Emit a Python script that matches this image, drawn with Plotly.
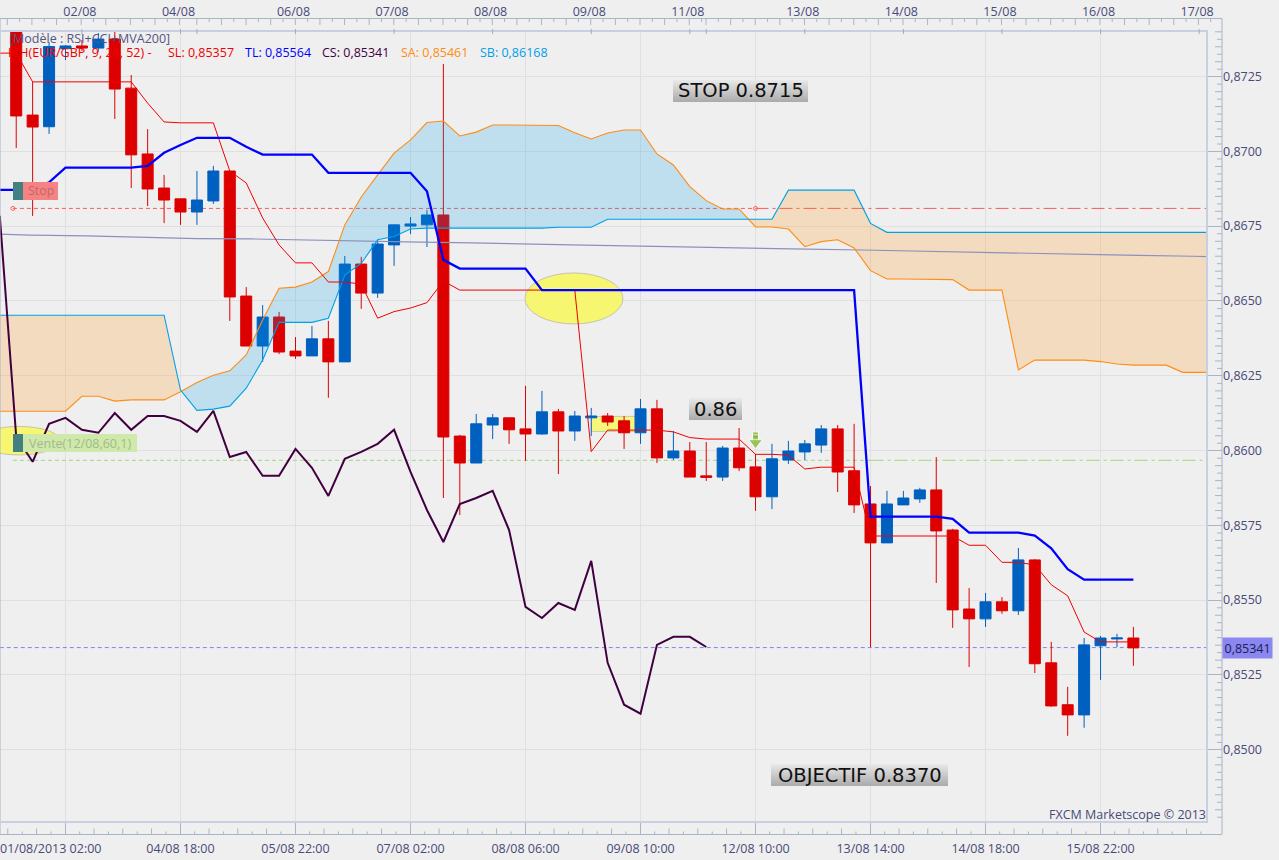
import plotly.graph_objects as go

W, H = 1279, 860

# --- data -----------------------------------------------------------------
CANDLE_FIRST = 1
OPEN = [0.87422,0.87121,0.87082,0.87343,0.87352,0.87345,0.87375,0.87211,0.86991,0.86877,0.86841,0.86797,0.86834,0.86934,0.86516,
        0.86349,0.86446,0.86332,0.86316,0.86373,0.86296,0.86623,0.86526,0.86687,0.86750,0.86754,0.86787,0.86048,0.85958,0.86085,
        0.86109,0.86072,0.86055,0.86129,0.86065,0.86109,0.86115,0.86099,0.86059,0.86139,0.85975,0.85998,0.85915,0.85911,0.86008,
        0.85945,0.85845,0.85968,0.85995,0.86018,0.86072,0.85932,0.85821,0.85691,0.85818,0.85838,0.85868,0.85734,0.85470,0.85437,
        0.85494,0.85464,0.85634,0.85290,0.85150,0.85116,0.85347,0.85370,0.85373]
HIGH = [0.87439,0.87232,0.87365,0.87355,0.87372,0.87395,0.87399,0.87255,0.87074,0.86921,0.86841,0.86934,0.86951,0.86934,0.86546,
        0.86486,0.86463,0.86379,0.86416,0.86433,0.86650,0.86647,0.86704,0.86754,0.86780,0.86804,0.87292,0.86052,0.86122,0.86122,
        0.86109,0.86216,0.86199,0.86139,0.86132,0.86142,0.86125,0.86115,0.86172,0.86169,0.86065,0.86028,0.86028,0.86015,0.86075,
        0.85988,0.86022,0.86032,0.86035,0.86085,0.86085,0.86089,0.85881,0.85865,0.85865,0.85875,0.85978,0.85738,0.85540,0.85524,
        0.85510,0.85674,0.85637,0.85360,0.85210,0.85373,0.85380,0.85387,0.85410]
LOW = [0.87011,0.86784,0.87058,0.87305,0.87335,0.87332,0.87108,0.86877,0.86817,0.86760,0.86754,0.86754,0.86824,0.86433,0.86349,
       0.86296,0.86322,0.86306,0.86316,0.86176,0.86296,0.86473,0.86510,0.86617,0.86723,0.86680,0.85841,0.85784,0.85958,0.86038,
       0.86022,0.85965,0.86052,0.85921,0.86032,0.86048,0.86082,0.86005,0.86022,0.85958,0.85968,0.85911,0.85898,0.85898,0.85931,
       0.85798,0.85804,0.85955,0.85968,0.85992,0.85861,0.85791,0.85343,0.85691,0.85818,0.85825,0.85557,0.85407,0.85276,0.85410,
       0.85454,0.85450,0.85256,0.85143,0.85046,0.85073,0.85233,0.85343,0.85280]
CLOSE = [0.87118,0.87081,0.87350,0.87352,0.87345,0.87375,0.87208,0.86988,0.86874,0.86837,0.86797,0.86837,0.86934,0.86513,0.86349,
         0.86446,0.86329,0.86316,0.86373,0.86296,0.86623,0.86526,0.86690,0.86754,0.86757,0.86787,0.86045,0.85958,0.86089,0.86109,
         0.86069,0.86055,0.86129,0.86065,0.86115,0.86115,0.86095,0.86059,0.86139,0.85975,0.85998,0.85911,0.85910,0.86008,0.85942,
         0.85845,0.85972,0.85998,0.86022,0.86072,0.85928,0.85818,0.85691,0.85821,0.85841,0.85868,0.85731,0.85467,0.85437,0.85494,
         0.85464,0.85634,0.85287,0.85146,0.85116,0.85350,0.85373,0.85373,0.85340]

SENKOU_A = [0.86131,0.86131,0.86131,0.86131,0.86131,0.86181,0.86181,0.86165,0.86169,0.86169,0.86169,0.86196,0.86227,0.86251,0.86266,
            0.86319,0.86436,0.86542,0.86546,0.86563,0.86598,0.86754,0.86847,0.86921,0.86994,0.87038,0.87096,0.87101,0.87051,0.87064,
            0.87088,0.87088,0.87088,0.87088,0.87086,0.87062,0.87041,0.87061,0.87071,0.87071,0.86991,0.86954,0.86882,0.86835,0.86807,
            0.86807,0.86747,0.86747,0.86740,0.86681,0.86698,0.86704,0.86677,0.86601,0.86573,0.86573,0.86573,0.86573,0.86571,0.86536,
            0.86536,0.86536,0.86269,0.86302,0.86302,0.86302,0.86302,0.86297,0.86289,0.86285,0.86285,0.86285,0.86261,0.86261,0.86261]
SENKOU_B = [0.86452,0.86452,0.86452,0.86452,0.86452,0.86452,0.86452,0.86452,0.86452,0.86452,0.86452,0.86202,0.86134,0.86138,0.86148,
            0.86208,0.86302,0.86428,0.86428,0.86428,0.86442,0.86586,0.86625,0.86704,0.86715,0.86740,0.86743,0.86743,0.86743,0.86743,
            0.86743,0.86743,0.86743,0.86743,0.86746,0.86746,0.86746,0.86773,0.86773,0.86773,0.86773,0.86773,0.86773,0.86773,0.86773,
            0.86773,0.86773,0.86773,0.86870,0.86870,0.86870,0.86870,0.86870,0.86759,0.86729,0.86729,0.86729,0.86729,0.86729,0.86729,
            0.86729,0.86729,0.86729,0.86729,0.86729,0.86729,0.86729,0.86729,0.86729,0.86729,0.86729,0.86729,0.86729,0.86729,0.86729]
SL_LINE = [0.87328,0.87328,0.87232,0.87232,0.87232,0.87232,0.87232,0.87232,0.87232,0.87161,0.87098,0.87095,0.87095,0.87095,0.86934,
           0.86894,0.86777,0.86687,0.86627,0.86627,0.86563,0.86563,0.86556,0.86442,0.86464,0.86476,0.86494,0.86566,0.86536,0.86536,
           0.86536,0.86536,0.86536,0.86536,0.86536,0.86536,0.85996,0.86068,0.86068,0.86068,0.86068,0.86062,0.86043,0.86038,0.86038,
           0.86038,0.85987,0.85987,0.85984,0.85938,0.85944,0.85944,0.85944,0.85714,0.85714,0.85714,0.85714,0.85714,0.85714,0.85683,
           0.85683,0.85626,0.85626,0.85617,0.85551,0.85514,0.85393,0.85360,0.85360,0.85360]
TL_LINE = [0.86871,0.86871,0.86871,0.86896,0.86945,0.86945,0.86945,0.86945,0.86945,0.86951,0.86995,0.87021,0.87045,0.87045,0.87045,
           0.87015,0.86989,0.86989,0.86989,0.86989,0.86928,0.86928,0.86928,0.86928,0.86928,0.86928,0.86866,0.86637,0.86608,0.86608,
           0.86608,0.86608,0.86608,0.86536,0.86536,0.86536,0.86536,0.86536,0.86536,0.86536,0.86536,0.86536,0.86536,0.86536,0.86536,
           0.86536,0.86536,0.86536,0.86536,0.86536,0.86536,0.86536,0.86536,0.85779,0.85779,0.85779,0.85779,0.85779,0.85771,0.85725,
           0.85725,0.85725,0.85725,0.85715,0.85673,0.85603,0.85568,0.85568,0.85568,0.85568]
CS_LINE = [0.86784,0.86045,0.85962,0.86089,0.86109,0.86069,0.86059,0.86125,0.86069,0.86115,0.86115,0.86099,0.86062,0.86132,0.85978,
           0.85995,0.85915,0.85915,0.86005,0.85942,0.85848,0.85972,0.85995,0.86022,0.86069,0.85928,0.85801,0.85694,0.85821,0.85841,
           0.85865,0.85734,0.85477,0.85440,0.85490,0.85467,0.85631,0.85290,0.85150,0.85120,0.85350,0.85377,0.85377,0.85343]
MVA_K = [0,1.8,5.3,8.6,12,15.3,18.7,22.1,25.6,28.8,32.1,35.6,39,42.3,45.8,49.1,52.5,55.8,59.2,62.6,65.9,69.3,72.6,73.5]
MVA200 = [0.86723,0.86720,0.86717,0.86713,0.86708,0.86707,0.86703,0.86699,0.86696,0.86694,0.86689,0.86686,0.86683,0.86679,0.86675,
          0.86673,0.86670,0.86666,0.86662,0.86659,0.86656,0.86652,0.86649,0.86648]

LEVEL_STOP = 0.86809
LEVEL_SELL = 0.85967
LEVEL_LAST = 0.85341
SWITCH_K = 46

BOTTOM_TICKS = [4, 11, 18, 25, 32, 39, 46, 53, 60, 67]
BOTTOM_LABELS = ["01/08/2013 02:00", "04/08 18:00", "05/08 22:00", "07/08 02:00", "08/08 06:00",
                 "09/08 10:00", "12/08 10:00", "13/08 14:00", "14/08 18:00", "15/08 22:00"]
TOP_TICKS = [5, 11, 18, 24, 30, 36, 42, 49, 55, 61, 67, 73]
TOP_LABELS = ["02/08", "04/08", "06/08", "07/08", "08/08", "09/08", "11/08", "13/08", "14/08", "15/08", "16/08", "17/08"]
MARK_K = [5, 11, 12, 18, 24, 30, 36, 42, 43, 49, 55, 61, 67, 73]
MARK_Y = 0.87425
Y_TICKS = [0.85, 0.8525, 0.855, 0.8575, 0.86, 0.8625, 0.865, 0.8675, 0.87, 0.8725]
Y_LABELS = ["0,8500", "0,8525", "0,8550", "0,8575", "0,8600", "0,8625", "0,8650", "0,8675", "0,8700", "0,8725"]
ARROW_K = 46
ARROW_STEM_Y = [0.86052, 0.86042]
ARROW_HEAD_Y = 0.86026

RED, BLUE = "#dd0000", "#0060c0"
TXT = "#4a4a78"
FONT = "Open Sans"

# --- pixel helpers for the chrome ------------------------------------------
PLOT_L, PLOT_R, PLOT_T, PLOT_B = 0, 1207, 31, 822
def px(x): return x / W
def py(y): return 1 - y / H
def k_to_x(k): return k * 16.43 - 0.22
def x_to_k(x): return (x + 0.22) / 16.43
def y_to_p(y): return (87505.6 - 3.342 * y) / 1e5
def path(segs):
    return "".join(f"M{px(a)},{py(b)}L{px(c)},{py(d)}" for a, b, c, d in segs)

fig = go.Figure()

# candles
fig.add_trace(go.Candlestick(
    x=list(range(CANDLE_FIRST, CANDLE_FIRST + len(OPEN))), open=OPEN, high=HIGH, low=LOW, close=CLOSE,
    increasing=dict(line=dict(color=BLUE, width=1), fillcolor=BLUE),
    decreasing=dict(line=dict(color=RED, width=1), fillcolor=RED),
    whiskerwidth=0, showlegend=False, hoverinfo="skip"))

# cloud: split where the two spans cross
def cloud_sections(a, b):
    sec, cur = [], [(0, a[0], b[0])]
    for i in range(1, len(a)):
        d0, d1 = a[i-1] - b[i-1], a[i] - b[i]
        if d0 * d1 < 0:
            t = d0 / (d0 - d1)
            xc, yc = i - 1 + t, a[i-1] + t * (a[i] - a[i-1])
            cur.append((xc, yc, yc))
            sec.append(cur)
            cur = [(xc, yc, yc)]
        cur.append((i, a[i], b[i]))
    sec.append(cur)
    return sec

for s in cloud_sections(SENKOU_A, SENKOU_B):
    up = sum(p[1] - p[2] for p in s) > 0
    xs = [p[0] for p in s]
    fig.add_trace(go.Scatter(
        x=xs + xs[::-1], y=[p[1] for p in s] + [p[2] for p in s][::-1],
        mode="lines", line=dict(width=0), fill="toself",
        fillcolor="rgba(0,160,240,0.2)" if up else "rgba(255,140,0,0.2)",
        showlegend=False, hoverinfo="skip"))

def line(xs, ys, color, width):
    fig.add_trace(go.Scatter(x=xs, y=ys, mode="lines", line=dict(color=color, width=width),
                             showlegend=False, hoverinfo="skip"))

line(MVA_K, MVA200, "#8c90bc", 1.2)
line(list(range(len(SENKOU_A))), SENKOU_A, "#ff8c14", 1.1)
line(list(range(len(SENKOU_B))), SENKOU_B, "#00a0e8", 1.1)
line(list(range(len(SL_LINE))), SL_LINE, "#f00000", 1)
line(list(range(len(CS_LINE))), CS_LINE, "#400040", 2)
line(list(range(len(TL_LINE))), TL_LINE, "#0000ff", 2.3)

# small anchors on the stop level + signal arrow
fig.add_trace(go.Scatter(x=[0.8, SWITCH_K], y=[LEVEL_STOP, LEVEL_STOP], mode="markers",
                         marker=dict(symbol="circle-open", size=4, color="#ff6060", line=dict(width=1)),
                         showlegend=False, hoverinfo="skip"))
fig.add_trace(go.Scatter(x=[ARROW_K] * 3, y=ARROW_STEM_Y + [ARROW_HEAD_Y], mode="markers",
                         marker=dict(symbol=["square", "square", "triangle-down"], size=[6, 6, 12], color="#78b41e"),
                         showlegend=False, hoverinfo="skip"))

# date markers, top axis
fig.add_trace(go.Scatter(x=MARK_K, y=[MARK_Y] * len(MARK_K), xaxis="x2", yaxis="y", mode="markers",
                         marker=dict(symbol="triangle-down", size=10, color="#ffa020"),
                         cliponaxis=False, showlegend=False, hoverinfo="skip"))

shapes = []
def rect(x0, y0, x1, y1, fill=None, linec=None, lw=0, layer="above", kind="rect", opacity=1):
    shapes.append(dict(type=kind, xref="paper", yref="paper", x0=px(x0), x1=px(x1), y0=py(y0), y1=py(y1),
                       fillcolor=fill, line=dict(color=linec, width=lw) if linec else dict(width=0),
                       layer=layer, opacity=opacity))

def mark_below(x0, y0, x1, y1, fill, linec, kind):
    shapes.append(dict(type=kind, xref="x", yref="y", x0=x_to_k(x0), x1=x_to_k(x1), y0=y_to_p(y0), y1=y_to_p(y1),
                       fillcolor=fill, line=dict(color=linec, width=1), layer="between"))

# highlight marks below the series, above the grid
mark_below(525, 273, 623, 324, "#f6f670", "#c4c4b0", "circle")
mark_below(-22, 426.5, 60, 455, "#f6f670", "#c4c4b0", "circle")
mark_below(591.5, 416.5, 640, 431.5, "#f6f678", "#c8c8b8", "rect")

# level lines
def level(y, x0, x1, color, dash):
    shapes.append(dict(type="line", xref="x", yref="y", x0=x0, x1=x1, y0=y, y1=y, layer="between",
                       line=dict(color=color, width=1, dash=dash)))
level(LEVEL_STOP, 0.8, SWITCH_K, "#ff5a5a", "4px,3px")
level(LEVEL_STOP, SWITCH_K, 73.48, "#ff5a5a", "13px,4px,3px,4px")
level(LEVEL_SELL, 0.8, SWITCH_K + 7, "#a0d880", "4px,3px")
level(LEVEL_SELL, SWITCH_K + 7, 73.48, "#a0d880", "13px,4px,3px,4px")
level(LEVEL_LAST, 0, 73.48, "#8080f0", "4px,3px")

# frame
AXC = "#a8b4c8"
rect(0, 18.5, 1222, 834.5, None, AXC, 1, "above")
rect(-2, 31, 1207, 822, None, "#c6d0e0", 2, "above")

# tick ruler, top
top_long, top_short = [], []
for start, stop, x0 in ((0, 190, 7.3), (190, 703, 640 % 12.31), (703, 1222, 706 % 12.31)):
    n = 0
    while x0 + n * 12.31 < stop:
        x = x0 + n * 12.31
        if x >= start:
            ref = {190: 640, 703: 706}.get(start, 31.9)
            is_long = round((x - ref) / 12.31) % 2 == 0
            (top_long if is_long else top_short).append((x, 18.5, x, 25 if is_long else 22))
        n += 1
for seg, lw in ((top_long, 1), (top_short, 1)):
    shapes.append(dict(type="path", xref="paper", yref="paper", path=path(seg), line=dict(color=AXC, width=lw), layer="above"))
# stems under the date markers
shapes.append(dict(type="path", xref="paper", yref="paper",
                   path=path([(k_to_x(k), 29, k_to_x(k), 34) for k in MARK_K]),
                   line=dict(color="#a0acc4", width=1), layer="above"))

# tick ruler, bottom
bot = []
n = -4
while 65.3 + n * 14.375 < 1217:
    x = 65.3 + n * 14.375
    if x > 0 and n % 8 != 0:
        bot.append((x, 834.5, x, 828.5 if n % 2 == 0 else 831.5))
    n += 1
shapes.append(dict(type="path", xref="paper", yref="paper", path=path(bot), line=dict(color=AXC, width=1), layer="above"))

# tick ruler, right
rt = []
for i in range(-10, 104):
    y = 749.9 - i * 7.48
    if 31 < y < 834 and i % 10 != 0:
        rt.append((1222, y, 1215 if i % 2 == 0 else 1217, y))
shapes.append(dict(type="path", xref="paper", yref="paper", path=path(rt), line=dict(color=AXC, width=1), layer="above"))

# gradient text plates
def plate(x0, y0, x1, y1):
    steps = int(y1 - y0)
    for i in range(steps):
        g = int(232 - (232 - 172) * i / max(steps - 1, 1))
        rect(x0, y0 + i, x1, y0 + i + 1, f"rgb({g},{g},{g})")
plate(673, 80, 808, 102)
plate(689, 398, 742, 420)
plate(771, 764, 948, 786)

# stop / sell tags
rect(23, 182, 58, 200, "#f48484")
rect(13, 182, 23, 200, "#438082")
rect(23, 434, 137, 452, "#cfe9aa")
rect(13, 434, 23, 452, "#438082")

ann = []
def note(text, x, y, anchor="left", size=12.5, color=TXT, family=FONT):
    ann.append(dict(text=text, xref="paper", yref="paper", x=px(x), y=py(y), xanchor=anchor, yanchor="middle",
                    showarrow=False, font=dict(size=size, color=color, family=family), borderpad=0, borderwidth=0))

note("[Modèle : RSI+CCI+MVA200]", 9, 39, color="#55557f")
note("ICH(EUR/GBP, 9, 26, 52) -", 8, 52, color="#f00000")
note("SL: 0,85357", 168, 52, color="#f00000")
note("TL: 0,85564", 245, 52, color="#0000ff")
note("CS: 0,85341", 321.5, 52, color="#400040")
note("SA: 0,85461", 400.5, 52, color="#ff8c14")
note("SB: 0,86168", 479.5, 52, color="#00a0e8")
note("Stop", 41, 191, "center", color="#c86464")
note("Vente(12/08,60,1)", 80, 443, "center", color="#a2ba8c")
note("STOP 0.8715", 740.5, 91, "center", 19.5, "#111111", "DejaVu Sans")
note("0.86", 715.5, 409, "center", 19.5, "#111111", "DejaVu Sans")
note("OBJECTIF 0.8370", 859.5, 775, "center", 19.5, "#111111", "DejaVu Sans")
note("FXCM Marketscope © 2013", 1206, 814, "right")
note(BOTTOM_LABELS[0], 0, 848)
ann.append(dict(text="0,85341", xref="paper", yref="paper", x=px(1222), y=py(647.5), xanchor="left", yanchor="middle",
                showarrow=False, bgcolor="#8a86f2", font=dict(size=12.5, color="#20204a", family=FONT),
                borderpad=1.5))

fig.update_layout(
    width=W, height=H, autosize=False,
    margin=dict(l=0, r=0, t=0, b=0, autoexpand=False),
    paper_bgcolor="#efefef", plot_bgcolor="#efefef",
    font=dict(family=FONT, size=12.5, color=TXT),
    showlegend=False, dragmode=False,
    boxgap=0.33, boxgroupgap=0,
    shapes=shapes, annotations=ann,
    xaxis=dict(domain=[px(PLOT_L), px(PLOT_R)], range=[0.013, 73.48], anchor="free", position=py(834.5),
               tickmode="array", tickvals=BOTTOM_TICKS, ticktext=[""] + BOTTOM_LABELS[1:],
               ticks="inside", ticklen=12.5, tickcolor=AXC, tickwidth=1, ticklabelstandoff=5,
               showgrid=True, gridcolor="#e0e0e0", gridwidth=1, zeroline=False, showline=False,
               rangeslider=dict(visible=False), tickfont=dict(size=12.5, color=TXT, family=FONT), tickangle=0,
               fixedrange=True),
    xaxis2=dict(overlaying="x", side="top", domain=[px(PLOT_L), px(PLOT_R)], range=[0.013, 73.48], anchor="free",
                position=py(18.5), tickmode="array", tickvals=TOP_TICKS, ticktext=TOP_LABELS, ticks="", ticklabelshift=-2,
                showgrid=False, zeroline=False, showline=False, fixedrange=True, tickangle=0,
                tickfont=dict(size=12.5, color=TXT, family=FONT)),
    yaxis=dict(domain=[py(PLOT_B), py(PLOT_T)], range=[0.84758, 0.87402], anchor="free", position=px(1222), side="right",
               tickmode="array", tickvals=Y_TICKS, ticktext=Y_LABELS, ticks="inside", ticklen=15, tickcolor=AXC, tickwidth=1,
               showgrid=True, gridcolor="#e0e0e0", gridwidth=1, zeroline=False, showline=False, fixedrange=True,
               tickfont=dict(size=12.5, color=TXT, family=FONT)),
)

fig.write_html("out.html", config=dict(displayModeBar=False),
               post_script="document.body.style.margin='0';document.body.style.overflow='hidden';")
